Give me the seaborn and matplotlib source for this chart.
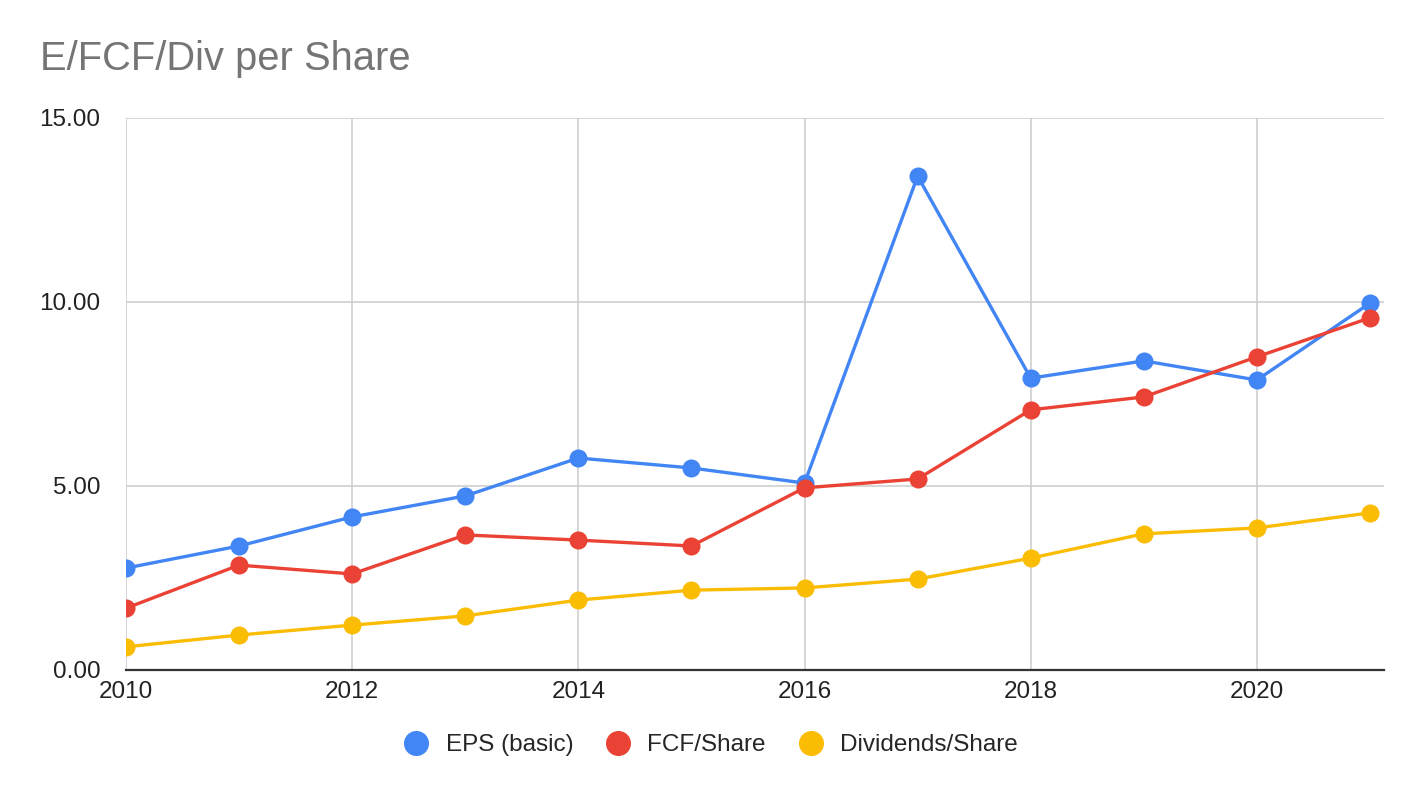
import pandas as pd
import seaborn as sns
import matplotlib.pyplot as plt

years = list(range(2010, 2022))
eps = [2.77, 3.37, 4.16, 4.73, 5.76, 5.49, 5.08, 13.42, 7.93, 8.40, 7.88, 9.97]
fcf = [1.68, 2.85, 2.61, 3.67, 3.53, 3.37, 4.95, 5.19, 7.07, 7.42, 8.51, 9.57]
div = [0.63, 0.95, 1.22, 1.47, 1.90, 2.17, 2.23, 2.47, 3.04, 3.70, 3.86, 4.27]
series_names = ['EPS (basic)', 'FCF/Share', 'Dividends/Share']
colors = ['#4285F4', '#EA4335', '#FBBC04']
y_ticks = [0, 5, 10, 15]
y_labels = ['0.00', '5.00', '10.00', '15.00']
x_ticks = [2010, 2012, 2014, 2016, 2018, 2020]

df = pd.DataFrame({'Year': years, series_names[0]: eps,
                   series_names[1]: fcf, series_names[2]: div})
long_df = df.melt(id_vars='Year', var_name='Series', value_name='Value')

sns.set_style('white')
plt.rcParams['font.family'] = ['Arial', 'Liberation Sans', 'DejaVu Sans']

fig = plt.figure(figsize=(14.24, 7.98), dpi=100)
ax = fig.add_axes([126 / 1424, 1 - 670 / 798, (1384 - 126) / 1424, (670 - 118) / 798])

sns.lineplot(data=long_df, x='Year', y='Value', hue='Series', palette=colors,
             hue_order=series_names, marker='o', markersize=13, markeredgewidth=0,
             linewidth=2.4, ax=ax, legend=False, zorder=3)

# data is one point per year, right edge sits a bit past 2021
ax.set_xlim(2010, 2010 + (1384 - 126) / ((1370 - 126) / 11))
ax.set_ylim(0, 15)
ax.set_xticks(x_ticks)
ax.set_yticks(y_ticks)
ax.set_yticklabels(y_labels)
ax.grid(True, color='#cccccc', linewidth=1.1)
for side in ['top', 'right', 'left']:
    ax.spines[side].set_visible(False)
ax.spines['bottom'].set_color('#333333')
ax.spines['bottom'].set_linewidth(1.6)
ax.tick_params(axis='x', length=0, labelsize=17.5, colors='#222222', pad=8)
ax.tick_params(axis='y', length=9.4, width=1.1, color='#cccccc', labelsize=17.5,
               labelcolor='#222222', pad=9)
ax.yaxis.get_major_ticks()[0].tick1line.set_color('#333333')
ax.set_xlabel('')
ax.set_ylabel('')

fig.text(40 / 1424, 1 - 59 / 798, 'E/FCF/Div per Share', fontsize=28.7,
         color='#757575', va='center', ha='left')

handles = [plt.Line2D([], [], marker='o', linestyle='', markersize=17,
                      color=c) for c in colors]
fig.legend(handles, series_names, loc='center', bbox_to_anchor=(711 / 1424, 1 - 745 / 798),
           ncol=3, frameon=False, fontsize=17.5, handlelength=1.0,
           handletextpad=0.7, columnspacing=1.35)

fig.savefig('out.png', dpi=100)
